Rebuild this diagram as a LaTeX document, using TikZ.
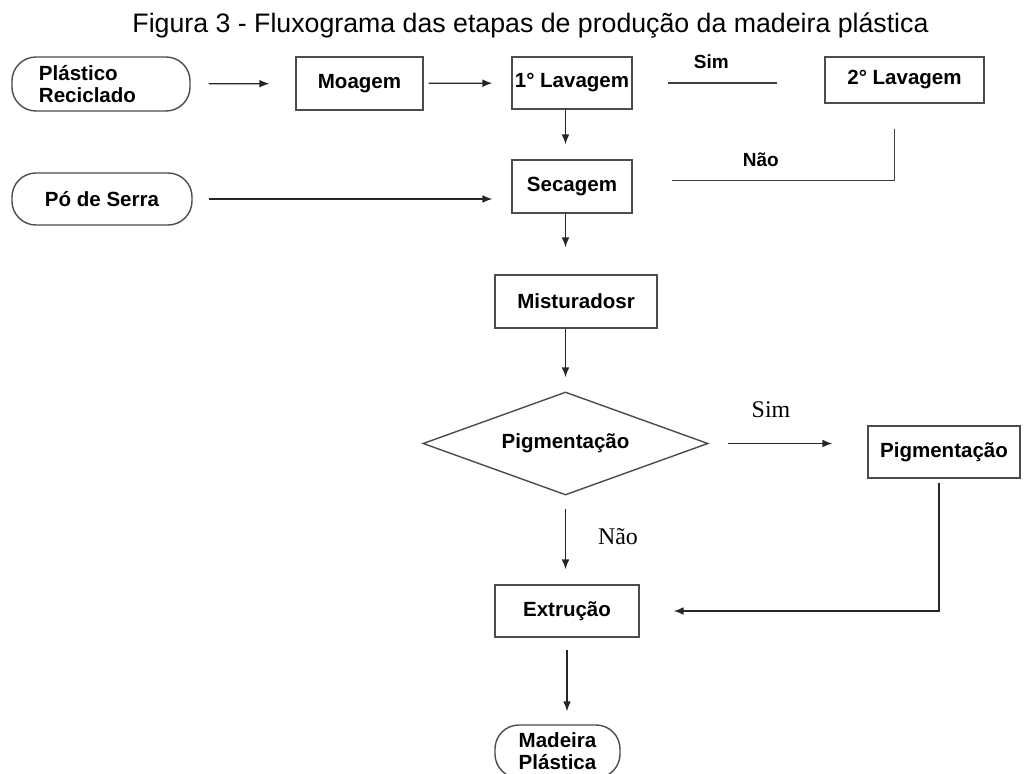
\documentclass[tikz,border=0pt]{standalone}
\usepackage{fontspec}
\setmainfont{Liberation Sans}
\newfontfamily\notefont{Liberation Serif}
\usetikzlibrary{arrows.meta,shapes.geometric,positioning}

\begin{document}
\begin{tikzpicture}[x=0.025cm,y=-0.025cm,
  stagebox/.style={draw=black!70,line width=1pt,align=center,inner sep=2pt,
    minimum height=1.3cm,font=\fontsize{14.6}{15.5}\selectfont\bfseries},
  pill/.style={stagebox,rounded corners=0.6cm},
  decision/.style={diamond,aspect=2.77,draw=black!70,line width=1pt,inner sep=0pt,
    minimum width=7.125cm,minimum height=2.575cm,font=\fontsize{14.6}{13}\selectfont\bfseries},
  flow/.style={-{Latex[length=7pt,width=5.5pt]},line width=0.9pt,draw=black!85},
  link/.style={line width=0.9pt,draw=black!75},
  tag/.style={font=\fontsize{13.5}{13}\selectfont\bfseries,inner sep=1pt},
  serifnote/.style={font=\fontsize{17}{17}\notefont,inner sep=1pt}]
\useasboundingbox (0,0) rectangle (1025,774);
\node[font=\fontsize{19}{22}\selectfont,anchor=base] (title) at (530.5,33)
  {Figura 3 - Fluxograma das etapas de produção da madeira plástica};
% entradas
\node[pill,minimum width=4.45cm,minimum height=1.35cm,align=left,
  inner xsep=0.675cm,text width=3.1cm] (plastico) at (101,84) {Plástico\\Reciclado};
\node[pill,minimum width=4.5cm] (po) at (102,199) {Pó de Serra};
% etapas
\node[stagebox,minimum width=3.175cm,minimum height=1.325cm] (moagem) at (359.5,83.5) {Moagem};
\node[stagebox,minimum width=3cm] (lav1) at (572,83) {1° Lavagem};
\node[stagebox,minimum width=3.975cm,minimum height=1.15cm] (lav2) at (904.5,80) {2° Lavagem};
\node[stagebox,minimum width=3cm,minimum height=1.325cm] (secagem) at (572,186.5) {Secagem};
\node[stagebox,minimum width=4.05cm,minimum height=1.325cm] (mistura) at (576,301.5) {Misturadosr};
\node[decision] (dpigm) at (565.5,443.5) {Pigmentação};
\node[stagebox,minimum width=3.8cm] (pigm) at (944,452) {Pigmentação};
\node[stagebox,minimum width=3.6cm] (extrusao) at (567,611) {Extrução};
\node[pill,minimum width=3.125cm,minimum height=1.325cm] (madeira) at (557.5,751.5) {Madeira\\Plástica};
% ligações
\draw[flow,shorten <=0.45cm,shorten >=0.65cm] (plastico) -- (moagem);
\draw[flow,shorten <=0.125cm,shorten >=0.475cm] (moagem) -- (lav1);
\draw[flow,shorten <=0.4cm,shorten >=0.475cm] (po) -- (po -| secagem.west);
\draw[link,shorten <=0.875cm,shorten >=1.175cm] (lav1) -- node[tag,pos=0.41,above=0.3cm] {Sim} (lav1 -| lav2.west);
\draw[flow,shorten >=0.375cm] (lav1.south -| dpigm) -- (secagem.north -| dpigm);
\draw[link] ([xshift=-0.25cm,yshift=-0.625cm]lav2.south) |- node[tag,pos=0.8,above=0.3cm] {Não}
  ([xshift=0.975cm,yshift=0.15cm]secagem.east);
\draw[flow,shorten >=0.675cm] (secagem.south -| dpigm) -- (mistura.north -| dpigm);
\draw[flow,shorten >=0.35cm] (mistura.south -| dpigm) -- (dpigm.north);
\draw[flow,shorten <=0.475cm,shorten >=0.875cm] (dpigm.east) -- (pigm.west |- dpigm);
\draw[flow,shorten <=0.325cm,shorten >=0.375cm] (dpigm.south) -- (dpigm.south |- extrusao.north);
\draw[flow] ([xshift=-0.125cm,yshift=-0.1cm]pigm.south) |- ([xshift=0.85cm]extrusao.east);
\draw[flow,shorten <=0.3cm,shorten >=0.325cm] (extrusao.south) -- (extrusao.south |- madeira.north);
\node[serifnote] (simpigm) at (771,410) {Sim};
\node[serifnote] (naopigm) at (618,537) {Não};
\end{tikzpicture}
\end{document}
